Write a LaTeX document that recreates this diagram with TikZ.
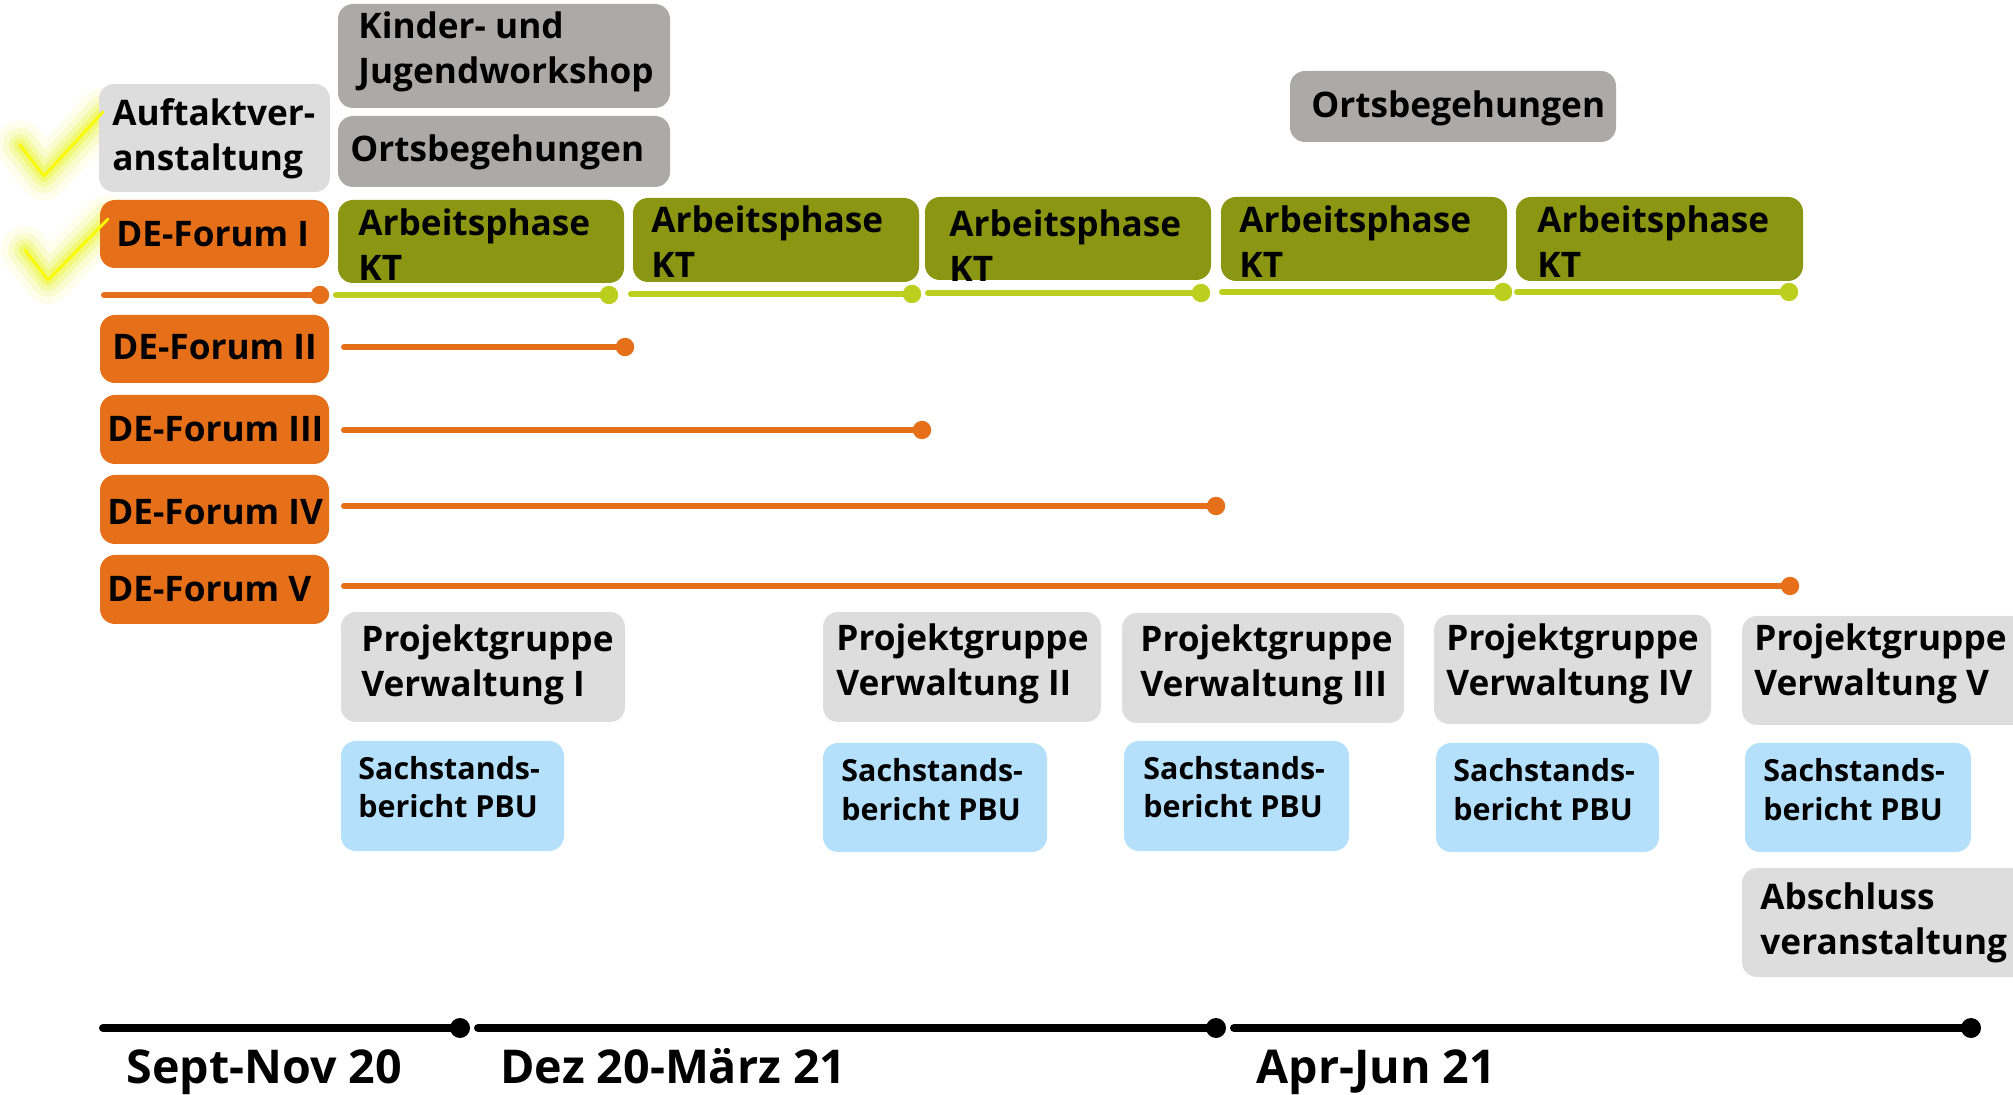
\documentclass[tikz,border=0pt]{standalone}
\usepackage{fontspec}
\IfFontExistsTF{Noto Sans Bold}
  {\setmainfont{Noto Sans}[BoldFont={Noto Sans Bold}]}
  {\IfFontExistsTF{NotoSans-Bold.ttf}
    {\setmainfont{Noto Sans}[BoldFont={NotoSans-Bold.ttf}]}
    {\setmainfont{Open Sans}}}
\usetikzlibrary{fit}
\definecolor{cOrange}{RGB}{230,112,25}
\definecolor{cOlive}{RGB}{139,150,19}
\definecolor{cLime}{RGB}{188,207,30}
\definecolor{cDark}{RGB}{171,170,168}
\definecolor{cLight}{RGB}{221,221,221}
\definecolor{cBlue}{RGB}{180,224,252}
\definecolor{cGlow}{RGB}{235,245,70}
\definecolor{cCheck}{RGB}{250,250,0}
\begin{document}
\begin{tikzpicture}[x=0.5pt,y=-0.5pt,
  box/.style={rectangle, rounded corners=7.5pt, inner sep=0pt, draw=none},
  txt/.style={anchor=base west, inner sep=0pt, align=left, text=black,
    font=\fontsize{17.6pt}{22.5pt}\selectfont\bfseries},
  stxt/.style={anchor=base west, inner sep=0pt, align=left, text=black,
    font=\fontsize{15.2pt}{19.5pt}\selectfont\bfseries},
  ltxt/.style={anchor=base west, inner sep=0pt, text=black,
    font=\fontsize{23.3pt}{28pt}\selectfont\bfseries},
  oline/.style={cOrange, line width=3pt, line cap=round},
  gline/.style={cLime, line width=3pt, line cap=round},
  tline/.style={black, line width=4pt, line cap=round},
  odot/.style={fill=cOrange},
  gdot/.style={fill=cLime},
  tdot/.style={fill=black},
  glow/.style={cGlow, line cap=round, line join=round},
  checkcore/.style={cCheck, line width=1.4pt, line cap=round, line join=round}
]
\useasboundingbox (0,0) rectangle (2013,1095);
\clip (0,0) rectangle (2013,1095);

% ---------- check marks (glow) ----------
\coordinate (c1a) at (20,145);
\coordinate (c1b) at (44,176);
\coordinate (c1c) at (103,112);
\coordinate (c2a) at (25,250);
\coordinate (c2b) at (48,280);
\coordinate (c2c) at (108,219);
\foreach \w/\o in {24/0.1,17/0.17,11/0.3,6/0.5}{
  \draw[glow, line width=\w pt, opacity=\o] (c1a) -- (c1b) -- (c1c);
  \draw[glow, line width=\w pt, opacity=\o] (c2a) -- (c2b) -- (c2c);
}

% ---------- top boxes ----------
\node[box, fill=cDark,  fit={(338,4) (670,108)}]   (kinder) {};
\node[box, fill=cLight, fit={(99,84) (330,192)}]   (auftakt) {};
\node[box, fill=cDark,  fit={(338,116) (670,187)}] (orts1) {};
\node[box, fill=cDark,  fit={(1290,71) (1616,142)}] (orts2) {};

% multi-line texts: base anchor = baseline of the last line
\node[txt] (kinder-t) at (358,84) {Kinder- und\\Jugendworkshop};
\node[txt] (auftakt-t) at (112,171) {Auftaktver-\\anstaltung};
\node[txt] (orts1-t) at (350,162) {Ortsbegehungen};
\node[txt] (orts2-t) at (1311,118) {Ortsbegehungen};

% ---------- DE-Forum boxes ----------
\node[box, fill=cOrange, fit={(100,200) (329,268)}] (de1) {};
\node[box, fill=cOrange, fit={(100,315) (329,383)}] (de2) {};
\node[box, fill=cOrange, fit={(100,395) (329,464)}] (de3) {};
\node[box, fill=cOrange, fit={(100,475) (329,544)}] (de4) {};
\node[box, fill=cOrange, fit={(100,555) (329,624)}] (de5) {};
\node[txt] (de1-t) at (116,247) {DE-Forum I};
\node[txt] (de2-t) at (112,360) {DE-Forum II};
\node[txt] (de3-t) at (107,442) {DE-Forum III};
\node[txt] (de4-t) at (107,525) {DE-Forum IV};
\node[txt] (de5-t) at (107,602) {DE-Forum V};

% ---------- Arbeitsphase boxes ----------
\node[box, fill=cOlive, fit={(338,200) (624,283)}]   (ap1) {};
\node[box, fill=cOlive, fit={(633,198) (919,282)}]   (ap2) {};
\node[box, fill=cOlive, fit={(925,197) (1211,280)}]  (ap3) {};
\node[box, fill=cOlive, fit={(1221,197) (1507,281)}] (ap4) {};
\node[box, fill=cOlive, fit={(1516,197) (1803,281)}] (ap5) {};
\node[txt] (ap1-t) at (358,281)  {Arbeitsphase\\KT};
\node[txt] (ap2-t) at (651,278)  {Arbeitsphase\\KT};
\node[txt] (ap3-t) at (949,282)  {Arbeitsphase\\KT};
\node[txt] (ap4-t) at (1239,278) {Arbeitsphase\\KT};
\node[txt] (ap5-t) at (1537,278) {Arbeitsphase\\KT};

% ---------- check mark cores ----------
\draw[checkcore] (c1a) -- (c1b) -- (c1c);
\draw[checkcore] (c2a) -- (c2b) -- (c2c);

% ---------- lines ----------
\coordinate (o1a) at (104,295);  \coordinate (o1b) at (320,295);
\coordinate (g1a) at (336,295);  \coordinate (g1b) at (609,295);
\coordinate (g2a) at (631,294);  \coordinate (g2b) at (912,294);
\coordinate (g3a) at (928,293);  \coordinate (g3b) at (1201,293);
\coordinate (g4a) at (1222,292); \coordinate (g4b) at (1503,292);
\coordinate (g5a) at (1517,292); \coordinate (g5b) at (1789,292);
\coordinate (o2a) at (344,347);  \coordinate (o2b) at (625,347);
\coordinate (o3a) at (344,430);  \coordinate (o3b) at (922,430);
\coordinate (o4a) at (344,506);  \coordinate (o4b) at (1216,506);
\coordinate (o5a) at (344,586);  \coordinate (o5b) at (1790,586);

\draw[oline] (o1a) -- (o1b); \fill[odot] (o1b) circle[radius=4.6pt];
\draw[gline] (g1a) -- (g1b); \fill[gdot] (g1b) circle[radius=4.6pt];
\draw[gline] (g2a) -- (g2b); \fill[gdot] (g2b) circle[radius=4.6pt];
\draw[gline] (g3a) -- (g3b); \fill[gdot] (g3b) circle[radius=4.6pt];
\draw[gline] (g4a) -- (g4b); \fill[gdot] (g4b) circle[radius=4.6pt];
\draw[gline] (g5a) -- (g5b); \fill[gdot] (g5b) circle[radius=4.6pt];
\draw[oline] (o2a) -- (o2b); \fill[odot] (o2b) circle[radius=4.6pt];
\draw[oline] (o3a) -- (o3b); \fill[odot] (o3b) circle[radius=4.6pt];
\draw[oline] (o4a) -- (o4b); \fill[odot] (o4b) circle[radius=4.6pt];
\draw[oline] (o5a) -- (o5b); \fill[odot] (o5b) circle[radius=4.6pt];

% ---------- Projektgruppe boxes ----------
\node[box, fill=cLight, fit={(341,612) (625,722)}]   (pg1) {};
\node[box, fill=cLight, fit={(823,612) (1101,722)}]  (pg2) {};
\node[box, fill=cLight, fit={(1122,613) (1404,723)}] (pg3) {};
\node[box, fill=cLight, fit={(1434,615) (1711,724)}] (pg4) {};
\node[box, fill=cLight, fit={(1742,616) (2040,725)}] (pg5) {};
\node[txt] (pg1-t) at (361,697)  {Projektgruppe\\Verwaltung I};
\node[txt] (pg2-t) at (836,696)  {Projektgruppe\\Verwaltung II};
\node[txt] (pg3-t) at (1140,697) {Projektgruppe\\Verwaltung III};
\node[txt] (pg4-t) at (1446,696) {Projektgruppe\\Verwaltung IV};
\node[txt] (pg5-t) at (1754,696) {Projektgruppe\\Verwaltung V};

% ---------- Sachstandsbericht boxes ----------
\node[box, fill=cBlue, fit={(341,741) (564,851)}]   (sb1) {};
\node[box, fill=cBlue, fit={(823,743) (1047,852)}]  (sb2) {};
\node[box, fill=cBlue, fit={(1124,741) (1349,851)}] (sb3) {};
\node[box, fill=cBlue, fit={(1436,743) (1659,852)}] (sb4) {};
\node[box, fill=cBlue, fit={(1745,743) (1971,852)}] (sb5) {};
\node[stxt] (sb1-t) at (358,818)  {Sachstands-\\bericht PBU};
\node[stxt] (sb2-t) at (841,820)  {Sachstands-\\bericht PBU};
\node[stxt] (sb3-t) at (1143,818) {Sachstands-\\bericht PBU};
\node[stxt] (sb4-t) at (1453,820) {Sachstands-\\bericht PBU};
\node[stxt] (sb5-t) at (1763,820) {Sachstands-\\bericht PBU};

% ---------- Abschluss ----------
\node[box, fill=cLight, fit={(1742,868) (2040,977)}] (absch) {};
\node[txt] (absch-t) at (1760,954) {Abschluss\\veranstaltung};

% ---------- timeline ----------
\coordinate (t0) at (103,1028);  \coordinate (t1) at (460,1028);
\coordinate (t2) at (478,1028);  \coordinate (t3) at (1216,1028);
\coordinate (t4) at (1234,1028); \coordinate (t5) at (1971,1028);
\draw[tline] (t0) -- (t1); \fill[tdot] (t1) circle[radius=5pt];
\draw[tline] (t2) -- (t3); \fill[tdot] (t3) circle[radius=5pt];
\draw[tline] (t4) -- (t5); \fill[tdot] (t5) circle[radius=5pt];

\node[ltxt] (lab1) at (126,1083)  {Sept-Nov 20};
\node[ltxt] (lab2) at (500,1083)  {Dez 20-März 21};
\node[ltxt] (lab3) at (1256,1083) {Apr-Jun 21};
\end{tikzpicture}
\end{document}
